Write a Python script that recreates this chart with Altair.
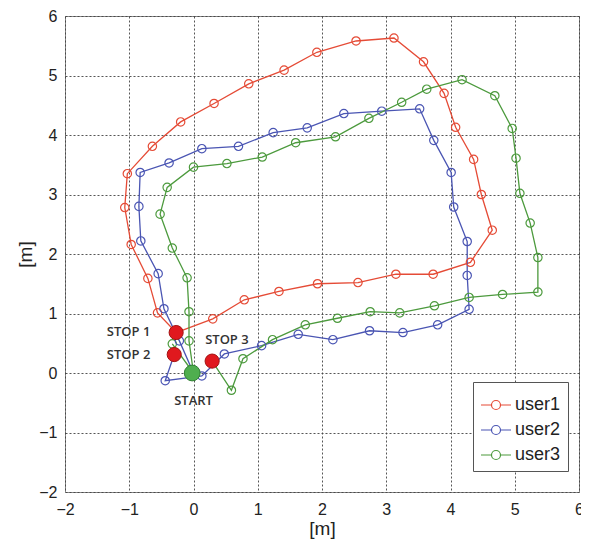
import altair as alt
import pandas as pd

users = ["user1", "user2", "user3"]
colors = ["#e54b36", "#4a55b3", "#4c9a3d"]

user1_x = [-0.27, 0.30, 0.79, 1.33, 1.93, 2.56, 3.15, 3.73, 4.31, 4.65, 4.48, 4.36, 4.08, 3.90, 3.58,
           3.12, 2.53, 1.92, 1.41, 0.86, 0.32, -0.20, -0.64, -1.03, -1.07, -0.97, -0.71, -0.56, -0.27]
user1_y = [0.68, 0.91, 1.23, 1.37, 1.50, 1.52, 1.66, 1.66, 1.86, 2.40, 3.00, 3.59, 4.13, 4.70, 5.23,
           5.63, 5.58, 5.39, 5.09, 4.86, 4.53, 4.22, 3.81, 3.35, 2.78, 2.16, 1.59, 1.01, 0.68]

user2_x = [-0.30, -0.44, 0.13, 0.48, 1.06, 1.63, 2.17, 2.74, 3.26, 3.80, 4.29, 4.26, 4.26, 4.05, 4.01,
           3.74, 3.52, 2.93, 2.34, 1.77, 1.24, 0.70, 0.13, -0.38, -0.83, -0.85, -0.82, -0.55, -0.46, -0.22, 0.0]
user2_y = [0.31, -0.13, -0.05, 0.32, 0.46, 0.65, 0.56, 0.71, 0.68, 0.81, 1.07, 1.64, 2.21, 2.79, 3.37,
           3.91, 4.44, 4.40, 4.36, 4.12, 4.04, 3.81, 3.77, 3.53, 3.37, 2.80, 2.22, 1.67, 1.08, 0.54, 0.0]

user3_x = [-0.33, 0.0, -0.07, -0.07, -0.10, -0.33, -0.52, -0.41, 0.0, 0.52, 1.07, 1.59, 2.21, 2.73, 3.24,
           3.63, 4.18, 4.69, 4.96, 5.02, 5.08, 5.24, 5.36, 5.36, 4.81, 4.29, 3.75, 3.21, 2.75, 2.24, 1.74,
           1.23, 0.77, 0.59, 0.29]
user3_y = [0.49, 0.0, 0.54, 1.03, 1.60, 2.10, 2.67, 3.12, 3.46, 3.52, 3.63, 3.87, 3.97, 4.28, 4.55,
           4.77, 4.93, 4.66, 4.11, 3.61, 3.02, 2.52, 1.94, 1.36, 1.32, 1.27, 1.13, 1.01, 1.03, 0.92, 0.81,
           0.56, 0.24, -0.29, 0.20]

stop_x = [-0.27, -0.30, 0.29]
stop_y = [0.68, 0.31, 0.20]
start_x = [-0.02]
start_y = [0.0]

label_text = ["STOP 1", "STOP 2", "STOP 3", "START"]
label_x = [-1.01, -1.01, 0.52, 0.0]
label_y = [0.69, 0.30, 0.55, -0.47]

ticks = [-2, -1, 0, 1, 2, 3, 4, 5, 6]

rows = []
for u, xs, ys in zip(users, [user1_x, user2_x, user3_x], [user1_y, user2_y, user3_y]):
    for i, (a, b) in enumerate(zip(xs, ys)):
        rows.append({"user": u, "x": a, "y": b, "i": i})
df = pd.DataFrame(rows)
stops = pd.DataFrame({"x": stop_x, "y": stop_y})
start = pd.DataFrame({"x": start_x, "y": start_y})
labels = pd.DataFrame({"t": label_text, "x": label_x, "y": label_y})

xsc = alt.Scale(domain=[-2, 6], nice=False, zero=False)
ysc = alt.Scale(domain=[-2, 6], nice=False, zero=False)

FONT = "Liberation Sans"
xaxis = alt.Axis(values=ticks, format="d", title="[m]", grid=True, gridColor="#444", gridDash=[2, 2],
                 gridOpacity=0.9, domain=False, ticks=False, labelFontSize=16, labelFont=FONT,
                 labelColor="#222", labelPadding=9, labelFlush=False, titleFont=FONT, titleFontSize=19,
                 titleFontWeight="normal", titleColor="#222", titleX=257, titleY=36, titleAlign="center",
                 titleBaseline="middle")
yaxis = alt.Axis(values=ticks, format="d", title="[m]", grid=True, gridColor="#444", gridDash=[2, 2],
                 gridOpacity=0.9, domain=False, ticks=False, labelFontSize=16, labelFont=FONT,
                 labelColor="#222", labelPadding=8, labelFlush=False, titleFont=FONT, titleFontSize=19,
                 titleFontWeight="normal", titleColor="#222", titleX=-40, titleY=238, titleAngle=270,
                 titleAlign="center", titleBaseline="middle")

sym = "M-1,0L-0.3,0M0.3,0L1,0M0.3,0A0.3,0.3,0,1,1,-0.3,0A0.3,0.3,0,1,1,0.3,0"
legend = alt.Legend(title=None, orient="none", legendX=408, legendY=366, fillColor="white",
                    strokeColor="#555", padding=7, labelFontSize=18, labelFont=FONT, labelColor="#222",
                    symbolType=sym, symbolSize=900, symbolStrokeWidth=1.2, symbolFillColor="white",
                    labelOffset=3, rowPadding=0, cornerRadius=0)

base = alt.Chart(df).encode(
    x=alt.X("x:Q", scale=xsc, axis=xaxis),
    y=alt.Y("y:Q", scale=ysc, axis=yaxis),
    stroke=alt.Stroke("user:N", scale=alt.Scale(domain=users, range=colors), legend=legend),
    order=alt.Order("i:Q"),
)
lines = base.mark_line(strokeWidth=1.3)
pts = base.mark_point(filled=False, size=70, strokeWidth=1.2, opacity=1, fill="white", fillOpacity=0)

stop_layer = alt.Chart(stops).mark_circle(size=200, color="#e0191e", stroke="#a31212", strokeWidth=1,
                                           opacity=1).encode(x="x:Q", y="y:Q")
start_layer = alt.Chart(start).mark_circle(size=250, color="#4fae4f", stroke="#2f7f32", strokeWidth=1,
                                            opacity=1).encode(x="x:Q", y="y:Q")
text_layer = alt.Chart(labels).mark_text(font="Open Sans", fontWeight=600, fontSize=13, color="#333",
                                         align="center", baseline="middle").encode(
    x="x:Q", y="y:Q", text="t:N")

chart = alt.layer(lines, pts, stop_layer, start_layer, text_layer).properties(
    width=514, height=476,
    autosize=alt.AutoSizeParams(type="none"),
    padding={"left": 57, "top": 8, "right": 2, "bottom": 48},
).configure_view(stroke="#888", strokeWidth=1)

chart.save("out.html", embed_options={"renderer": "svg", "actions": False})
